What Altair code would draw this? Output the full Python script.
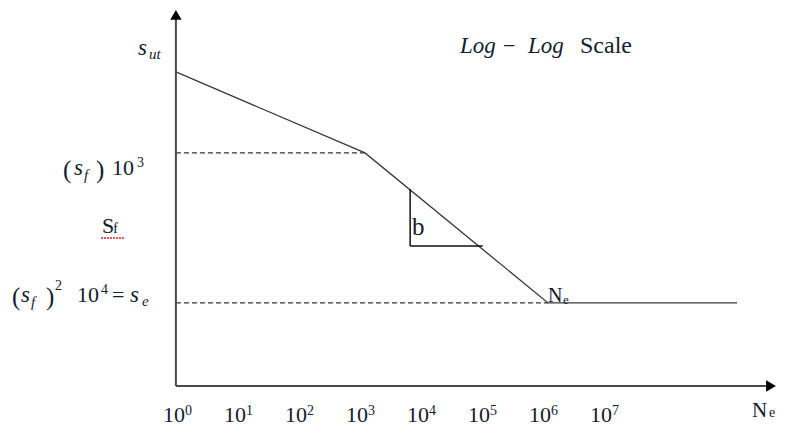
import altair as alt
import pandas as pd

# ---------------- data (diagram units: x = log10 N, y = log S) ----------------
curve_logN = [-0.1, 3.0, 6.0, 9.1]
curve_logS = [10.47, 7.77, 2.77, 2.77]

tick_exp = [0, 1, 2, 3, 4, 5, 6, 7]
tick_sup = ["0", "1", "2", "3", "4", "5", "6", "7"]

# slope triangle "b"
tri_x = [3.74, 3.74]
tri_y = [6.57, 4.67]
tri_x_end = 4.93

axis_origin = -0.1
x_axis_end = 9.6
y_axis_top = 12.25

# ---------------- scales ----------------
XS = alt.Scale(domain=[-2.8525, 9.7705], nice=False, zero=False)
YS = alt.Scale(domain=[-1.4, 12.6], nice=False, zero=False)
SERIF = "Liberation Serif"


def X(f="x"):
    return alt.X(f"{f}:Q", scale=XS, axis=None)


def Y(f="y"):
    return alt.Y(f"{f}:Q", scale=YS, axis=None)


# ---------------- axes (arrows) ----------------
axes_df = pd.DataFrame({
    "x": [axis_origin, axis_origin],
    "x2": [axis_origin, x_axis_end],
    "y": [0.0, 0.0],
    "y2": [y_axis_top, 0.0],
})
axes = alt.Chart(axes_df).mark_rule(color="#4a4a4a", strokeWidth=2).encode(
    x=X(), x2="x2:Q", y=Y(), y2="y2:Q")

arrow_df = pd.DataFrame({
    "x": [axis_origin, 9.656],
    "y": [12.37, 0.0],
    "shape": ["triangle-up", "triangle-right"],
})
arrows = alt.Chart(arrow_df).mark_point(filled=True, color="#000", opacity=1, size=130).encode(
    x=X(), y=Y(), shape=alt.Shape("shape:N", scale=None))

# ---------------- S-N curve ----------------
curve_df = pd.DataFrame({"x": curve_logN, "y": curve_logS, "o": range(len(curve_logN))})
curve = alt.Chart(curve_df).mark_line(color="#3a3a3a", strokeWidth=1.3).encode(
    x=X(), y=Y(), order="o:Q")

# dashed guides
dash_df = pd.DataFrame({
    "x": [axis_origin, axis_origin],
    "x2": [curve_logN[1], curve_logN[2]],
    "y": [curve_logS[1], curve_logS[2]],
})
dashes = alt.Chart(dash_df).mark_rule(color="#000", strokeWidth=1, strokeDash=[5, 3]).encode(
    x=X(), x2="x2:Q", y=Y())

# slope triangle
tri_df = pd.DataFrame({
    "x": [tri_x[0], tri_x[1]],
    "x2": [tri_x[0], tri_x_end],
    "y": [tri_y[0], tri_y[1]],
    "y2": [tri_y[1], tri_y[1]],
})
tri = alt.Chart(tri_df).mark_rule(color="#111", strokeWidth=1.5).encode(
    x=X(), x2="x2:Q", y=Y(), y2="y2:Q")

# spell-check squiggle under S_f
sq_df = pd.DataFrame({"x": [-1.328], "x2": [-0.934], "y": [4.933]})
squiggle = alt.Chart(sq_df).mark_rule(color="#e02020", strokeWidth=1.5, strokeDash=[2, 1]).encode(
    x=X(), x2="x2:Q", y=Y())

# ---------------- text ----------------
TXT = "#15202e"

ital_df = pd.DataFrame([
    ("s", -0.721, 11.033, 23), ("ut", -0.541, 10.9, 15),
    ("s", -1.770, 7.033, 23), ("f", -1.607, 6.867, 15),
    ("s", -2.639, 2.8, 23), ("f", -2.475, 2.633, 15),
    ("s", -0.852, 2.8, 23), ("e", -0.656, 2.667, 15),
    ("Log", 4.557, 11.1, 23), ("Log", 5.672, 11.1, 23),
], columns=["t", "x", "y", "s"])
ital = alt.Chart(ital_df).mark_text(font=SERIF, fontStyle="italic", align="left",
                                    baseline="alphabetic", color=TXT).encode(
    x=X(), y=Y(), text="t:N", size=alt.Size("s:Q", scale=None))

reg_df = pd.DataFrame([
    ("(", -1.951, 6.933, 25), (")", -1.410, 6.933, 25),
    ("10", -1.148, 7.033, 22), ("3", -0.738, 7.3, 14),
    ("(", -2.787, 2.7, 25), (")", -2.230, 2.7, 25),
    ("2", -2.082, 3.2, 14), ("10", -1.721, 2.8, 22), ("4", -1.328, 3.067, 14),
    ("=", -1.148, 2.8, 22), ("\u2212", 5.262, 11.1, 22),
    ("Scale", 6.525, 11.1, 24),
], columns=["t", "x", "y", "s"])
reg = alt.Chart(reg_df).mark_text(font=SERIF, align="left",
                                  baseline="alphabetic", color=TXT).encode(
    x=X(), y=Y(), text="t:N", size=alt.Size("s:Q", scale=None))

times_df = pd.DataFrame([
    ("S", -1.311, 5.1, 22), ("f", -1.131, 5.1, 15),
    ("b", 3.770, 5.033, 25),
    ("N", 6.0, 2.8, 20), ("e", 6.246, 2.733, 13),
    ("N", 9.344, -1.033, 21), ("e", 9.623, -1.033, 14),
], columns=["t", "x", "y", "s"])
times = alt.Chart(times_df).mark_text(font=SERIF, align="left",
                                      baseline="alphabetic", color=TXT).encode(
    x=X(), y=Y(), text="t:N", size=alt.Size("s:Q", scale=None))

tick_df = pd.DataFrame({"x": tick_exp, "sup": tick_sup, "base": ["10"] * len(tick_exp),
                        "yb": [-1.2] * len(tick_exp), "yp": [-0.967] * len(tick_exp)})
tick_base = alt.Chart(tick_df).mark_text(font=SERIF, fontSize=22, align="right",
                                         baseline="alphabetic", dx=3, color=TXT).encode(
    x=X(), y=Y("yb"), text="base:N")
tick_pow = alt.Chart(tick_df).mark_text(font=SERIF, fontSize=14, align="left",
                                        baseline="alphabetic", dx=3, color=TXT).encode(
    x=X(), y=Y("yp"), text="sup:N")

chart = alt.layer(
    dashes, curve, tri, axes, arrows, squiggle, ital, reg, times, tick_base, tick_pow
).properties(
    width=770, height=420, padding=0,
    autosize=alt.AutoSizeParams(type="none"),
    background="white",
).configure_view(stroke=None)

chart.save("out.html", embed_options={"renderer": "svg", "actions": False})
